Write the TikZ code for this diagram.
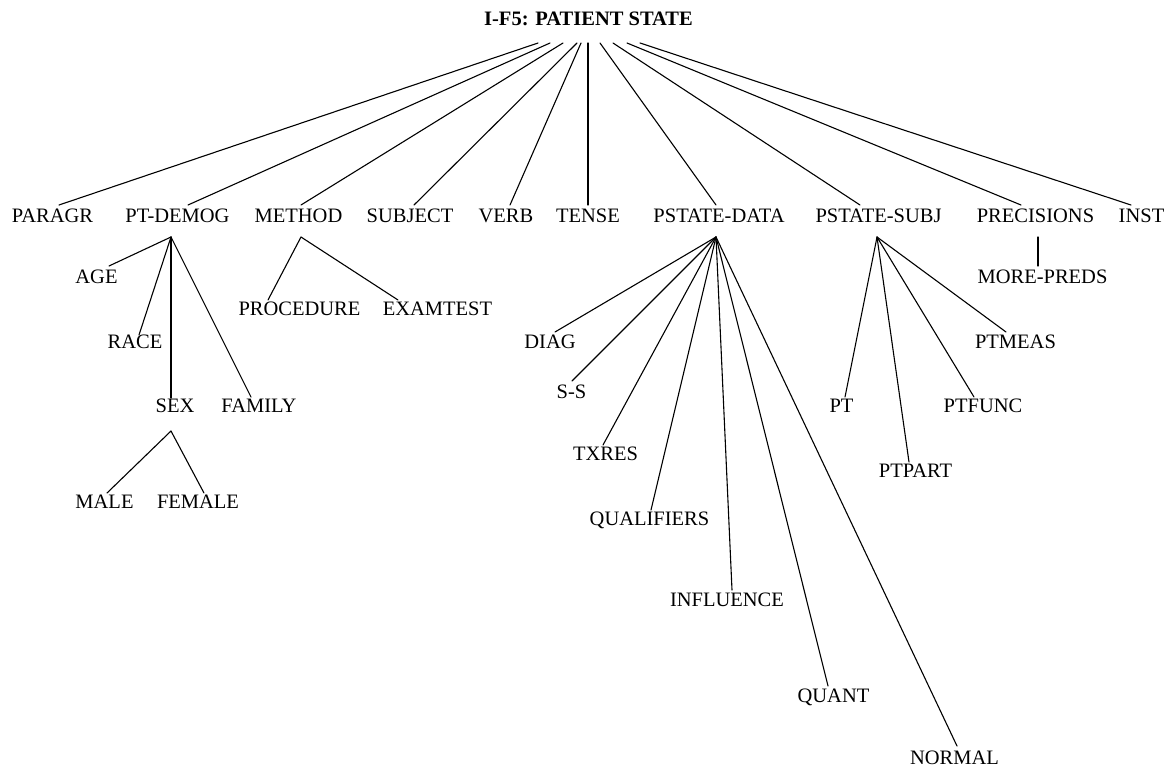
\documentclass[tikz,border=0pt]{standalone}
\usepackage{fontspec}
\setmainfont{Liberation Serif}
\begin{document}
\begin{tikzpicture}[x=1pt,y=-1pt,
  lbl/.style={inner sep=0pt, anchor=base, font=\fontsize{20.5}{24}\selectfont},
  ttl/.style={inner sep=0pt, anchor=base, font=\fontsize{20.5}{24}\selectfont\bfseries},
  edge/.style={line width=1.1pt, line cap=round, line join=round}]
\useasboundingbox (0,0) rectangle (1174,769);
% title
\node[ttl] (root) at (588.5,25) {I-F5: PATIENT STATE};
% level 1
\node[lbl] (paragr) at (52.5,222) {PARAGR};
\node[lbl] (demog) at (177.5,222) {PT-DEMOG};
\node[lbl] (method) at (298.5,222) {METHOD};
\node[lbl] (subject) at (410,222) {SUBJECT};
\node[lbl] (verb) at (506,222) {VERB};
\node[lbl] (tense) at (588,222) {TENSE};
\node[lbl] (pdata) at (719,222) {PSTATE-DATA};
\node[lbl] (psubj) at (878.5,222) {PSTATE-SUBJ};
\node[lbl] (prec) at (1035.5,222) {PRECISIONS};
\node[lbl] (inst) at (1141.5,222) {INST};
% level 2
\node[lbl] (age) at (96.5,283) {AGE};
\node[lbl] (race) at (135,348) {RACE};
\node[lbl] (sex) at (175,412) {SEX};
\node[lbl] (family) at (259,412) {FAMILY};
\node[lbl] (male) at (104.5,508) {MALE};
\node[lbl] (female) at (198,508) {FEMALE};
\node[lbl] (proc) at (299.5,315) {PROCEDURE};
\node[lbl] (exam) at (437.5,315) {EXAMTEST};
\node[lbl] (diag) at (550,348) {DIAG};
\node[lbl] (ss) at (571.5,398) {S-S};
\node[lbl] (txres) at (605.5,460) {TXRES};
\node[lbl] (qual) at (649.5,525) {QUALIFIERS};
\node[lbl] (infl) at (727,606) {INFLUENCE};
\node[lbl] (quant) at (833.5,702) {QUANT};
\node[lbl] (normal) at (954.5,764) {NORMAL};
\node[lbl] (pt) at (841.5,412) {PT};
\node[lbl] (ptpart) at (915.5,477) {PTPART};
\node[lbl] (ptfunc) at (983,412) {PTFUNC};
\node[lbl] (ptmeas) at (1015.5,348) {PTMEAS};
\node[lbl] (morepreds) at (1042.5,283) {MORE-PREDS};
% attachment coordinates on the title
\coordinate (r1) at (538,43);
\coordinate (r2) at (550,43);
\coordinate (r3) at (563,43);
\coordinate (r4) at (577,43);
\coordinate (r5) at (581,43);
\coordinate (r6) at (588,43);
\coordinate (r7) at (600,43);
\coordinate (r8) at (613,43);
\coordinate (r9) at (627,43);
\coordinate (r10) at (640,43);
% tops of level-1 labels
\coordinate (paragr-in) at (59,205);
\coordinate (demog-in) at (188,205);
\coordinate (method-in) at (301,205);
\coordinate (subject-in) at (414,205);
\coordinate (verb-in) at (510,205);
\coordinate (tense-in) at (588,205);
\coordinate (pdata-in) at (716,205);
\coordinate (psubj-in) at (860,205);
\coordinate (prec-in) at (1021,205);
\coordinate (inst-in) at (1131,205);
% apexes below level-1 labels
\coordinate (demog-out) at (171,237);
\coordinate (method-out) at (301,237);
\coordinate (pdata-out) at (716,237);
\coordinate (psubj-out) at (877,237);
\coordinate (prec-out) at (1038,237);
\coordinate (sex-out) at (171,431);
% tops of level-2 labels
\coordinate (age-in) at (109,266);
\coordinate (race-in) at (139,335);
\coordinate (sex-in) at (171,398);
\coordinate (family-in) at (251,397);
\coordinate (male-in) at (107,493);
\coordinate (female-in) at (204,493);
\coordinate (proc-in) at (268,300);
\coordinate (exam-in) at (398,300);
\coordinate (diag-in) at (555,332);
\coordinate (ss-in) at (572,381);
\coordinate (txres-in) at (603,445);
\coordinate (qual-in) at (651,510);
\coordinate (infl-in) at (732,590);
\coordinate (quant-in) at (828,686);
\coordinate (normal-in) at (957,746);
\coordinate (pt-in) at (845,397);
\coordinate (ptpart-in) at (909,462);
\coordinate (ptfunc-in) at (974,397);
\coordinate (ptmeas-in) at (1006,332);
\coordinate (morepreds-in) at (1038,266);
% edges from title
\draw[edge] (r1) -- (paragr-in);
\draw[edge] (r2) -- (demog-in);
\draw[edge] (r3) -- (method-in);
\draw[edge] (r4) -- (subject-in);
\draw[edge] (r5) -- (verb-in);
\draw[edge] (r6) -- (tense-in);
\draw[edge] (r7) -- (pdata-in);
\draw[edge] (r8) -- (psubj-in);
\draw[edge] (r9) -- (prec-in);
\draw[edge] (r10) -- (inst-in);
% PT-DEMOG
\foreach \c in {age,race,sex,family} \draw[edge] (demog-out) -- (\c-in);
\foreach \c in {male,female} \draw[edge] (sex-out) -- (\c-in);
% METHOD
\foreach \c in {proc,exam} \draw[edge] (method-out) -- (\c-in);
% PSTATE-DATA
\foreach \c in {diag,ss,txres,qual,infl,quant,normal} \draw[edge] (pdata-out) -- (\c-in);
% PSTATE-SUBJ
\foreach \c in {pt,ptpart,ptfunc,ptmeas} \draw[edge] (psubj-out) -- (\c-in);
% PRECISIONS
\draw[edge] (prec-out) -- (morepreds-in);
\end{tikzpicture}
\end{document}
